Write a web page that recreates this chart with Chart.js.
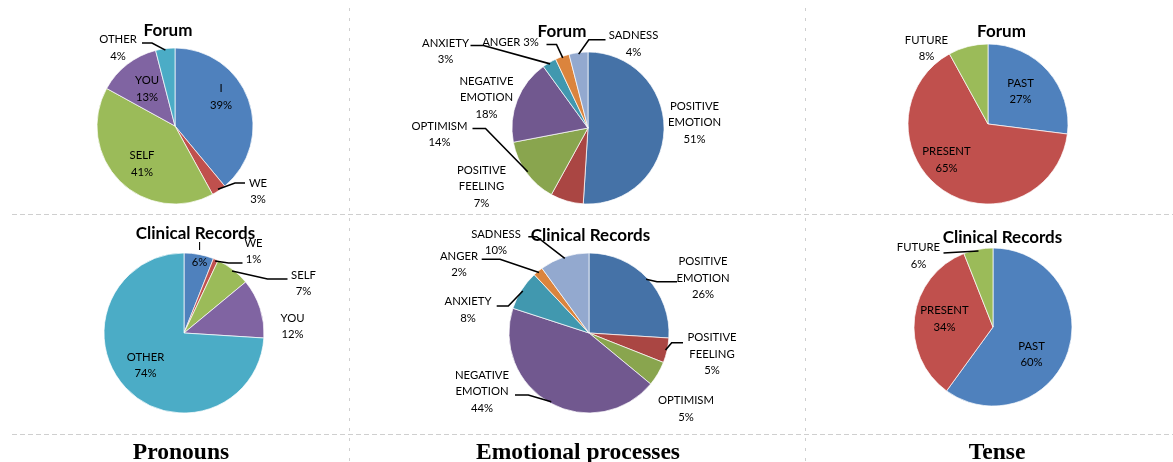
<!DOCTYPE html>
<html><head><meta charset="utf-8">
<script src="https://cdn.jsdelivr.net/npm/chart.js@4.4.1/dist/chart.umd.min.js"></script>
<style>
html,body{margin:0;padding:0;background:#fff;}
body{width:1173px;height:462px;position:relative;overflow:hidden;font-family:Lato,sans-serif;}
canvas.cv{position:absolute;}
.title{position:absolute;font:bold 17px Lato,sans-serif;color:#000;transform:translate(-50%,-50%);white-space:nowrap;z-index:5;}
.col{position:absolute;font:bold 24px "Liberation Serif","Times New Roman",serif;color:#000;transform:translate(-50%,-50%) scaleX(0.98);white-space:nowrap;}
svg{position:absolute;left:0;top:0;}
</style></head><body>
<svg width="1173" height="462">
  <g stroke="#cfcfcf" stroke-width="1" fill="none">
    <line x1="12" y1="214.5" x2="1173" y2="214.5" stroke-dasharray="5,3"/>
    <line x1="12" y1="434.5" x2="1173" y2="434.5" stroke-dasharray="5,3"/>
    <line x1="349.5" y1="8" x2="349.5" y2="462" stroke-dasharray="3,7"/>
    <line x1="805.5" y1="8" x2="805.5" y2="462" stroke-dasharray="3,7"/>
  </g>
</svg>
<script>
// ---------- DATA ----------
const pronounCats = ['I','WE','SELF','YOU','OTHER'];
const pronounForum = [39,3,41,13,4];
const pronounClinical = [6,1,7,12,74];
const emotionCats = ['POSITIVE EMOTION','POSITIVE FEELING','OPTIMISM','NEGATIVE EMOTION','ANXIETY','ANGER','SADNESS'];
const emotionForum = [51,7,14,18,3,3,4];
const emotionClinical = [26,5,5,44,8,2,10];
const tenseCats = ['PAST','PRESENT','FUTURE'];
const tenseForum = [27,65,8];
const tenseClinical = [60,34,6];
const chartTitles = ['Forum','Clinical Records'];
const columnTitles = ['Pronouns','Emotional processes','Tense'];

// ---------- STYLE ----------
const pronounColors = ['#4f81bd','#c0504d','#9bbb59','#8064a2','#4bacc6'];
const emotionColors = ['#4572a7','#aa4643','#89a54e','#71588f','#4198af','#db843d','#93a9cf'];
const tenseColors = ['#4f81bd','#c0504d','#9bbb59'];

// ---------- LAYOUT ----------
const charts = [
  {cats:pronounCats, vals:pronounForum, colors:pronounColors, c:[175,126], r:78, title:0, t:[168,29],
   specs:[{pos:[46,-29]},{pos:[83,65.5],leader:[[60,57],[70,57]]},{pos:[-33,38]},{pos:[-28,-37]},{pos:[-57,-78],leader:[[-23,-83],[-33,-83]]}]},
  {cats:pronounCats, vals:pronounClinical, colors:pronounColors, c:[183.5,333], r:80, title:1, t:[195.5,232],
   specs:[{pos:[15.5,-78.5]},{pos:[69.5,-81.5],leader:[[44.5,-70],[58.5,-70]]},{pos:[119.5,-49.5],leader:[[83.5,-54],[103.5,-54]]},{pos:[108.5,-6.5]},{pos:[-38.5,32.5]}]},
  {cats:emotionCats, vals:emotionForum, colors:emotionColors, c:[587.5,127.5], r:76, title:0, t:[562,30],
   specs:[{pos:[106.5,-5.5]},{pos:[-106.5,58.5]},{pos:[-148.5,6.5],leader:[[-102.5,0.5],[-115.5,0.5]]},{pos:[-101.5,-30.5]},
          {pos:[-142.5,-76.5],leader:[[-104.5,-82.5],[-117.5,-82.5]]},{pos:[-77.5,-85.5],inline:true,leader:[[-31.5,-83.5],[-41.5,-83.5]]},
          {pos:[45.5,-84],leader:[[0.8,-88.2],[17.5,-88.2]]}]},
  {cats:emotionCats, vals:emotionClinical, colors:emotionColors, c:[589,333], r:80, title:1, t:[590.5,234],
   specs:[{pos:[114,-55],leader:[[68,-51.3],[88,-51.3]]},{pos:[123,21],leader:[[82.7,9.7],[94,9.7]]},{pos:[97,76]},
          {pos:[-107,58.5],leader:[[-60.7,62],[-74,62]]},{pos:[-121,-23],leader:[[-80.7,-27],[-92.3,-27]]},
          {pos:[-130,-68.5],leader:[[-89,-73.7],[-107.3,-73.7]]},{pos:[-93,-90.5],leader:[[-52.3,-96.3],[-60.7,-96.3]]}]},
  {cats:tenseCats, vals:tenseForum, colors:tenseColors, c:[987.5,123.5], r:80, title:0, t:[1001.5,30],
   specs:[{pos:[32.5,-32.5]},{pos:[-41.5,36]},{pos:[-61.5,-75.5]}]},
  {cats:tenseCats, vals:tenseClinical, colors:tenseColors, c:[992.5,327], r:79, title:1, t:[1002.5,236],
   specs:[{pos:[38.5,27.5]},{pos:[-48.5,-8]},{pos:[-74.5,-71],leader:[[-32.5,-75],[-49.5,-74]]}]}
];
const columnPos = [[181,451],[577.5,451],[997,451]];
const CW = 360, CH = 230;

const labelPlugin = {
  id:'sliceLabels',
  afterDatasetsDraw(chart, args, opts){
    const ctx = chart.ctx, meta = chart.getDatasetMeta(0);
    const ds = chart.data.datasets[0], labels = chart.data.labels, specs = opts.specs || [];
    ctx.save();
    meta.data.forEach((arc,i)=>{
      const sp = specs[i]; if(!sp) return;
      const p = arc.getProps(['x','y','startAngle','endAngle','outerRadius'], true);
      const pct = ds.data[i] + '%';
      const lines = sp.inline ? [labels[i] + ' ' + pct] : labels[i].split(' ').concat([pct]);
      if(sp.leader){
        const a = (p.startAngle + p.endAngle)/2;
        const rr = p.outerRadius * (sp.k || 0.98);
        ctx.beginPath();
        ctx.moveTo(p.x + Math.cos(a)*rr, p.y + Math.sin(a)*rr);
        sp.leader.forEach(q=>ctx.lineTo(p.x + q[0], p.y + q[1]));
        ctx.strokeStyle = '#000'; ctx.lineWidth = 1.6; ctx.stroke();
      }
      ctx.font = '11.3px Lato, sans-serif';
      ctx.fillStyle = '#000'; ctx.textAlign = 'center'; ctx.textBaseline = 'middle';
      const lh = 16.5, y0 = p.y + sp.pos[1] - (lines.length-1)*lh/2;
      lines.forEach((t,j)=>ctx.fillText(t, p.x + sp.pos[0], y0 + j*lh));
    });
    ctx.restore();
  }
};

charts.forEach(cfg=>{
  const cv = document.createElement('canvas');
  cv.className = 'cv'; cv.width = CW; cv.height = CH;
  cv.style.left = (cfg.c[0]-CW/2)+'px'; cv.style.top = (cfg.c[1]-CH/2)+'px';
  document.body.appendChild(cv);
  new Chart(cv, {
    type:'pie',
    data:{labels:cfg.cats, datasets:[{data:cfg.vals, backgroundColor:cfg.colors, borderColor:'rgba(255,255,255,0.7)', borderWidth:1, radius:cfg.r}]},
    options:{responsive:false, animation:false, layout:{padding:0},
      plugins:{legend:{display:false}, tooltip:{enabled:false}, title:{display:false}, sliceLabels:{specs:cfg.specs}}},
    plugins:[labelPlugin]
  });
  const t = document.createElement('div');
  t.className = 'title'; t.textContent = chartTitles[cfg.title];
  t.style.left = cfg.t[0]+'px'; t.style.top = cfg.t[1]+'px';
  document.body.appendChild(t);
});
columnTitles.forEach((s,i)=>{
  const d = document.createElement('div');
  d.className = 'col'; d.textContent = s;
  d.style.left = columnPos[i][0]+'px'; d.style.top = columnPos[i][1]+'px';
  document.body.appendChild(d);
});
</script>
</body></html>
